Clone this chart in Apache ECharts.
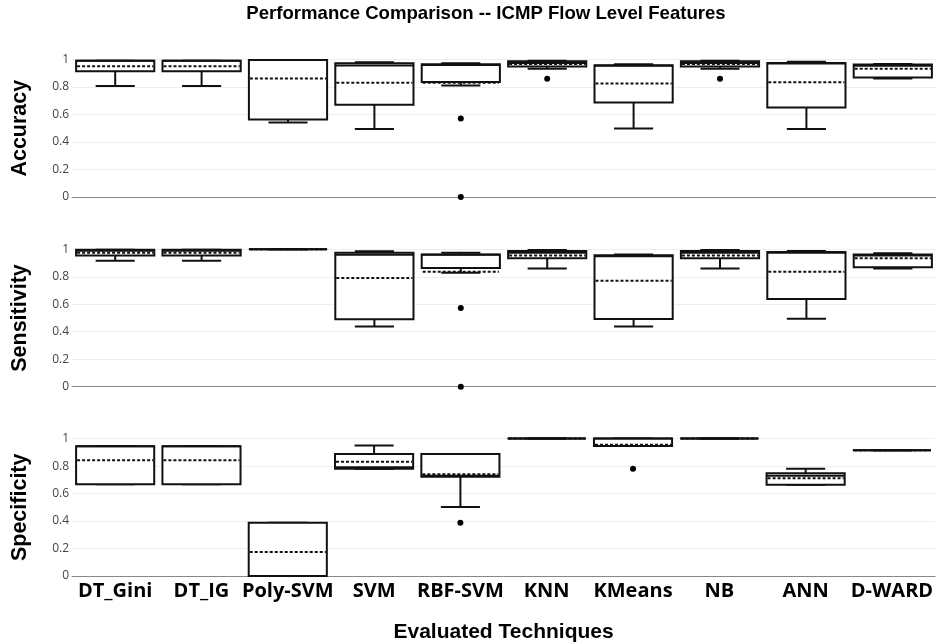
<!DOCTYPE html>
<html><head><meta charset="utf-8">
<script src="https://cdn.jsdelivr.net/npm/echarts@6/dist/echarts.min.js"></script>
<style>html,body{margin:0;padding:0;background:#fff}#c{width:936px;height:644px}</style>
</head><body><div id="c"></div>
<script>
const categories = ['DT_Gini','DT_IG','Poly-SVM','SVM','RBF-SVM','KNN','KMeans','NB','ANN','D-WARD'];
const yTicks = [0, 0.2, 0.4, 0.6, 0.8, 1];

// Accuracy
const accLow  = [0.808,0.808,0.541,0.495,0.810,0.932,0.497,0.932,0.495,0.861];
const accQ1   = [0.915,0.915,0.563,0.670,0.837,0.949,0.687,0.949,0.650,0.869];
const accMed  = [0.990,0.990,0.997,0.956,0.960,0.975,0.955,0.975,0.970,0.955];
const accQ3   = [0.990,0.990,0.997,0.973,0.966,0.987,0.958,0.987,0.975,0.963];
const accHigh = [0.990,0.990,0.997,0.980,0.973,0.990,0.966,0.990,0.983,0.968];
const accMean = [0.951,0.951,0.861,0.830,0.830,0.968,0.825,0.968,0.835,0.932];
const accOut  = [['RBF-SVM',0.570],['RBF-SVM',0.0],['KNN',0.859],['NB',0.859]];

// Sensitivity
const senLow  = [0.917,0.917,1.000,0.439,0.830,0.861,0.439,0.861,0.495,0.861];
const senQ1   = [0.954,0.954,1.000,0.490,0.864,0.934,0.493,0.934,0.638,0.869];
const senMed  = [0.990,0.990,1.000,0.961,0.960,0.975,0.950,0.975,0.975,0.955];
const senQ3   = [0.997,0.997,1.000,0.975,0.963,0.988,0.956,0.988,0.981,0.963];
const senHigh = [0.997,0.997,1.000,0.985,0.975,0.994,0.963,0.994,0.988,0.971];
const senMean = [0.975,0.975,1.000,0.791,0.837,0.954,0.772,0.954,0.837,0.934];
const senOut  = [['RBF-SVM',0.573],['RBF-SVM',0.0]];

// Specificity
const speLow  = [0.667,0.667,0.000,0.781,0.502,1.000,0.946,1.000,0.665,0.915];
const speQ1   = [0.667,0.667,0.000,0.781,0.723,1.000,0.946,1.000,0.665,0.915];
const speMed  = [0.944,0.944,0.000,0.791,0.730,1.000,1.000,1.000,0.730,0.915];
const speQ3   = [0.944,0.944,0.388,0.888,0.888,1.000,1.000,1.000,0.747,0.915];
const speHigh = [0.944,0.944,0.388,0.949,0.888,1.000,1.000,1.000,0.781,0.915];
const speMean = [0.842,0.842,0.175,0.832,0.740,1.000,0.956,1.000,0.711,0.915];
const speOut  = [['RBF-SVM',0.388],['KMeans',0.781]];

const panels = [
  {name:'Accuracy',    low:accLow, q1:accQ1, med:accMed, q3:accQ3, high:accHigh, mean:accMean, out:accOut},
  {name:'Sensitivity', low:senLow, q1:senQ1, med:senMed, q3:senQ3, high:senHigh, mean:senMean, out:senOut},
  {name:'Specificity', low:speLow, q1:speQ1, med:speMed, q3:speQ3, high:speHigh, mean:speMean, out:speOut}
];

const gridTops = [59.5, 249.3, 438.6];
const gridH = 137.4;
const STROKE = '#111';

function renderBox(params, api) {
  const i = api.value(0);
  const bw = api.size([1, 0])[0] * 0.905;
  const cx = api.coord([i, 0])[0];
  const y = k => api.coord([i, api.value(k)])[1];
  const yL = y(1), yQ1 = y(2), yM = y(3), yQ3 = y(4), yH = y(5), yMean = y(6);
  const half = bw / 2, cap = bw / 4;
  const st = {stroke: STROKE, lineWidth: 2, fill: null};
  const line = (x1, y1, x2, y2, style) => ({type: 'line', shape: {x1, y1, x2, y2}, style: style || st});
  return {
    type: 'group',
    children: [
      line(cx, yQ3, cx, yH),
      line(cx - cap, yH, cx + cap, yH),
      line(cx, yQ1, cx, yL),
      line(cx - cap, yL, cx + cap, yL),
      {type: 'rect', shape: {x: cx - half, y: yQ3, width: bw, height: yQ1 - yQ3},
       style: {fill: '#fff', stroke: STROKE, lineWidth: 2}},
      line(cx - half, yM, cx + half, yM),
      line(cx - half + 1, yMean, cx + half - 1, yMean,
           {stroke: STROKE, lineWidth: 2, lineDash: [3, 2], fill: null})
    ]
  };
}

const grid = [], xAxis = [], yAxis = [], series = [];
panels.forEach((p, g) => {
  const last = g === panels.length - 1;
  grid.push({left: 72, width: 866, top: gridTops[g], height: gridH});
  xAxis.push({
    type: 'category', gridIndex: g, data: categories,
    axisLine: {show: true, lineStyle: {color: '#888', width: 1}},
    axisTick: {show: false},
    axisLabel: {show: last, interval: 0, margin: 5, color: '#000',
      fontFamily: 'Open Sans', fontWeight: 'bold', fontSize: 20},
    name: last ? 'Evaluated Techniques' : '',
    nameLocation: 'middle', nameGap: 46,
    nameTextStyle: {fontFamily: 'Liberation Sans', fontWeight: 'bold', fontSize: 21, color: '#000'}
  });
  yAxis.push({
    type: 'value', gridIndex: g, min: yTicks[0], max: yTicks[yTicks.length - 1], interval: 0.2,
    axisLine: {show: false}, axisTick: {show: false},
    splitLine: {lineStyle: {color: '#eeeeee', width: 1}},
    axisLabel: {color: '#444', fontFamily: 'Open Sans', fontSize: 12, margin: 3,
      formatter: v => (yTicks.includes(Math.round(v * 10) / 10) ? String(Math.round(v * 10) / 10) : '')},
    name: p.name, nameLocation: 'middle', nameGap: 41, nameRotate: 90,
    nameTextStyle: {fontFamily: 'Liberation Sans', fontWeight: 'bold', fontSize: 21.5, color: '#000'}
  });
  series.push({
    type: 'custom', xAxisIndex: g, yAxisIndex: g, clip: false,
    renderItem: renderBox,
    encode: {x: 0, y: [1, 2, 3, 4, 5, 6]},
    data: categories.map((c, i) => [i, p.low[i], p.q1[i], p.med[i], p.q3[i], p.high[i], p.mean[i]])
  });
  series.push({
    type: 'scatter', xAxisIndex: g, yAxisIndex: g, clip: false,
    symbol: 'circle', symbolSize: 6, itemStyle: {color: '#000', opacity: 1},
    data: p.out, z: 5
  });
});

const chart = echarts.init(document.getElementById('c'), null, {renderer: 'canvas'});
chart.setOption({
  animation: false,
  backgroundColor: '#fff',
  title: {
    text: 'Performance Comparison -- ICMP Flow Level Features',
    left: 481, top: -1, textAlign: 'center',
    textStyle: {fontFamily: 'Liberation Sans', fontWeight: 'bold', fontSize: 18.6, color: '#000'}
  },
  grid, xAxis, yAxis, series
});
</script>
</body></html>
